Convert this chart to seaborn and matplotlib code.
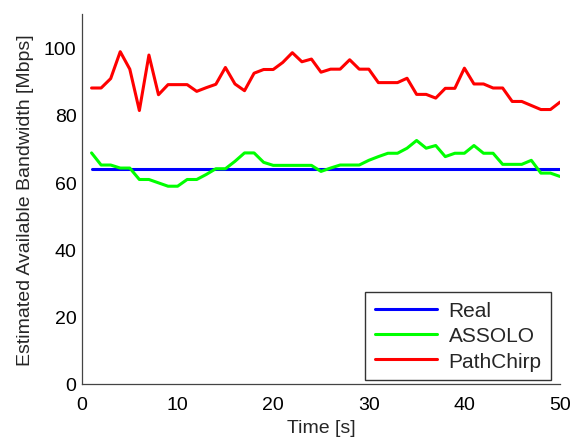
import numpy as np
import pandas as pd
import matplotlib
matplotlib.use("Agg")
import matplotlib.pyplot as plt
import seaborn as sns

time_s = list(range(1, 51))
real = [64] * 50
assolo = [68.7, 65.1, 65.1, 64.2, 64.2, 60.8, 60.8, 59.8, 58.8, 58.8,
          60.8, 60.8, 62.3, 64.0, 64.0, 66.2, 68.7, 68.7, 65.9, 65.0,
          65.0, 65.0, 65.0, 65.0, 63.2, 64.2, 65.1, 65.1, 65.1, 66.5,
          67.6, 68.6, 68.6, 70.1, 72.4, 70.1, 70.9, 67.6, 68.6, 68.6,
          70.9, 68.6, 68.6, 65.3, 65.3, 65.3, 66.5, 62.7, 62.7, 61.7]
pathchirp = [88.0, 88.0, 90.8, 98.8, 93.6, 81.3, 97.8, 86.0, 89.0, 89.0,
             89.0, 87.0, 88.1, 89.1, 94.1, 89.2, 87.2, 92.4, 93.5, 93.5,
             95.6, 98.5, 95.8, 96.6, 92.7, 93.6, 93.6, 96.4, 93.6, 93.6,
             89.6, 89.6, 89.6, 90.9, 86.1, 86.1, 85.0, 87.9, 87.9, 93.9,
             89.2, 89.2, 88.0, 88.0, 84.0, 84.0, 82.8, 81.6, 81.6, 83.8]
series_names = ["Real", "ASSOLO", "PathChirp"]
colors = ["#0000ff", "#00ff00", "#ff0000"]
x_ticks = [0, 10, 20, 30, 40, 50]
y_ticks = [0, 20, 40, 60, 80, 100]

df = pd.DataFrame({
    "Time": time_s * 3,
    "Value": real + assolo + pathchirp,
    "Series": sum([[n] * 50 for n in series_names], []),
})

sns.set_style("white")
plt.rcParams["font.family"] = ["Liberation Sans", "DejaVu Sans"]

fig = plt.figure(figsize=(5.73, 4.39), dpi=100)
ax = fig.add_axes([82 / 573, 1 - 385 / 439, (560 - 82) / 573, (385 - 15) / 439])
sns.lineplot(data=df, x="Time", y="Value", hue="Series", hue_order=series_names,
             palette=colors, linewidth=2.2, ax=ax)

ax.set_xlim(0, 50)
ax.set_ylim(0, 110)
ax.set_xticks(x_ticks)
ax.set_yticks(y_ticks)
ax.tick_params(direction="in", length=4, width=0.8, labelsize=14, colors="black")
ax.tick_params(axis="x", pad=9)
ax.tick_params(axis="y", pad=4)
for s in ["top", "right"]:
    ax.spines[s].set_visible(False)
for s in ["left", "bottom"]:
    ax.spines[s].set_color("#444444")
    ax.spines[s].set_linewidth(0.9)
ax.set_xlabel("Time [s]", fontsize=14, labelpad=4)
ax.set_ylabel("Estimated Available Bandwidth [Mbps]", fontsize=14, labelpad=7)

leg = ax.legend(loc="lower right", fontsize=15, frameon=True, fancybox=False,
                edgecolor="black", handlelength=3.0, handletextpad=0.55,
                borderpad=0.45, labelspacing=0.3, borderaxespad=0,
                bbox_to_anchor=(0.981, 0.011))
leg.get_frame().set_linewidth(1.0)
for line in leg.get_lines():
    line.set_linewidth(2.2)

fig.savefig("out.png", dpi=100)
